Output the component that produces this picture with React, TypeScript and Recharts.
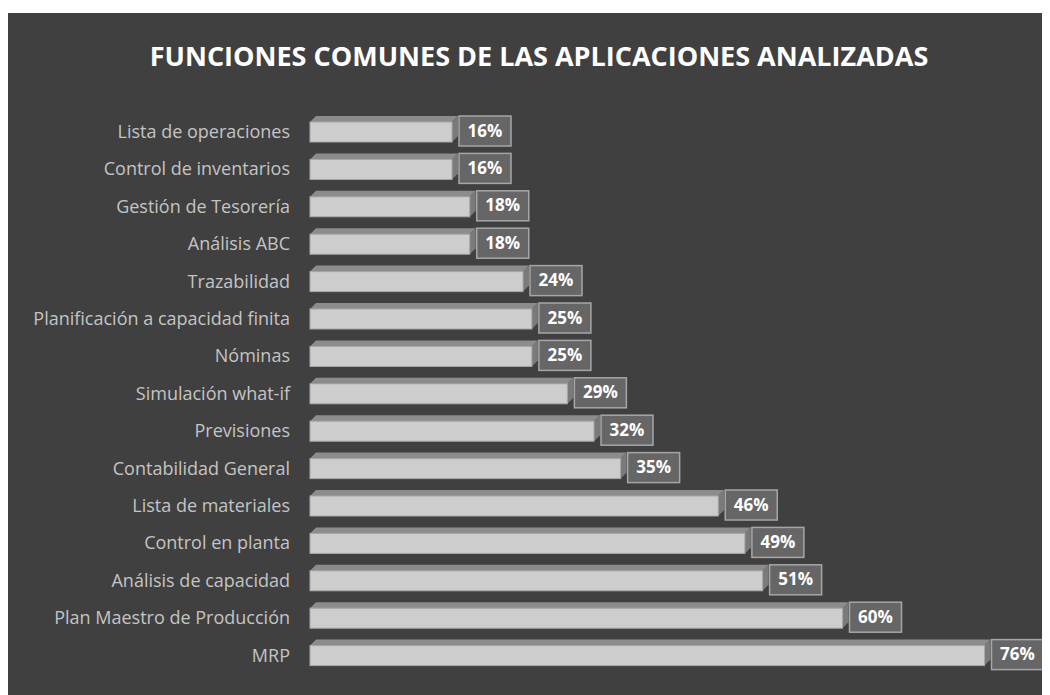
import { BarChart, Bar, XAxis, YAxis, LabelList } from 'recharts';

const categories = [
  'Lista de operaciones',
  'Control de inventarios',
  'Gestión de Tesorería',
  'Análisis ABC',
  'Trazabilidad',
  'Planificación a capacidad finita',
  'Nóminas',
  'Simulación what-if',
  'Previsiones',
  'Contabilidad General',
  'Lista de materiales',
  'Control en planta',
  'Análisis de capacidad',
  'Plan Maestro de Producción',
  'MRP',
];

const percentages = [16, 16, 18, 18, 24, 25, 25, 29, 32, 35, 46, 49, 51, 60, 76];

const data = categories.map((name, i) => ({ name, value: percentages[i] }));

const FONT = '"Open Sans", "Noto Sans", sans-serif';
const DEPTH = 6;

const Bar3D = (props: any) => {
  const { x, y, width, height } = props;
  const d = DEPTH;
  return (
    <g>
      <polygon
        points={`${x},${y} ${x + d},${y - d} ${x + width + d},${y - d} ${x + width},${y}`}
        fill='#8c8c8c'
      />
      <polygon
        points={`${x + width},${y} ${x + width + d},${y - d} ${x + width + d},${y + height - d} ${x + width},${y + height}`}
        fill='#7a7a7a'
      />
      <rect x={x} y={y} width={width} height={height} fill='#cdcdcd' stroke='#a8a8a8' strokeWidth={1} />
    </g>
  );
};

const ValueLabel = (props: any) => {
  const { x, y, width, height, value } = props;
  const bx = x + width + 7;
  const cy = y + height / 2 - 1;
  return (
    <g>
      <rect x={bx} y={cy - 15} width={52} height={30} fill='#666666' stroke='#a6a6a6' strokeWidth={1.5} />
      <text
        x={bx + 26}
        y={cy + 1}
        textAnchor='middle'
        dominantBaseline='middle'
        fill='#ffffff'
        fontFamily={FONT}
        fontWeight={700}
        fontSize={17}
      >
        {`${value}%`}
      </text>
    </g>
  );
};

export default function App() {
  return (
    <div style={{ paddingTop: 5 }}>
      <div style={{ width: 1042, height: 682, background: '#404040', position: 'relative' }}>
        <div
          style={{
            position: 'absolute',
            top: 24,
            left: 0,
            width: 1062,
            textAlign: 'center',
            color: '#ffffff',
            fontFamily: FONT,
            fontWeight: 700,
            fontSize: 27,
          }}
        >
          FUNCIONES COMUNES DE LAS APLICACIONES ANALIZADAS
        </div>
        <BarChart
          width={1042}
          height={682}
          data={data}
          layout='vertical'
          margin={{ top: 100, right: 30, bottom: 21, left: 0 }}
          barSize={20}
        >
          <XAxis type='number' domain={[0, 80]} hide />
          <YAxis
            type='category'
            dataKey='name'
            width={302}
            axisLine={false}
            tickLine={false}
            tickMargin={14}
            tick={{ fill: '#c4c4c4', fontSize: 18, fontFamily: FONT }}
            interval={0}
          />
          <Bar dataKey='value' shape={<Bar3D />} isAnimationActive={false}>
            <LabelList dataKey='value' content={<ValueLabel />} />
          </Bar>
        </BarChart>
      </div>
    </div>
  );
}
